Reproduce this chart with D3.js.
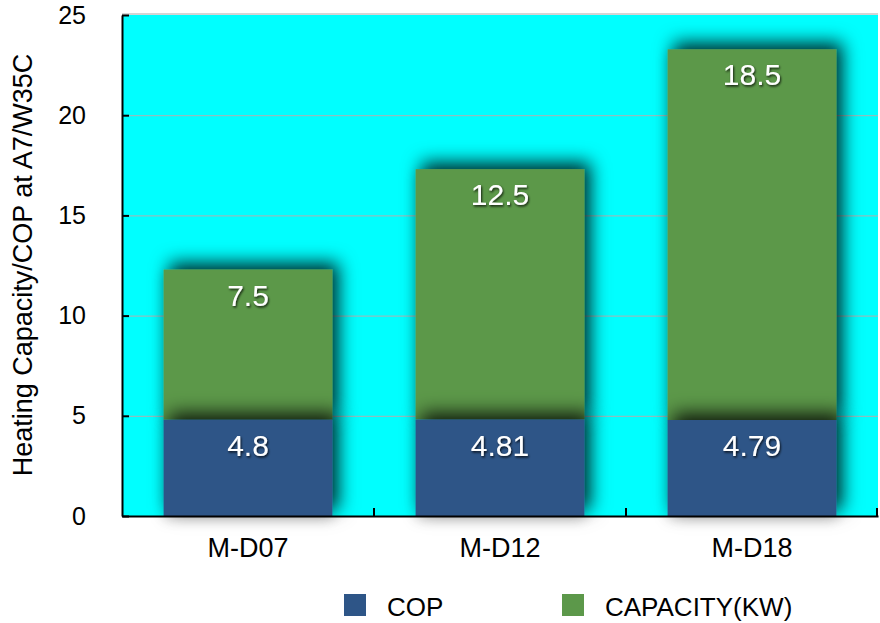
<!DOCTYPE html>
<html>
<head>
<meta charset="utf-8">
<script src="https://cdn.jsdelivr.net/npm/d3@7"></script>
<style>
  body { margin: 0; background: #fff; }
  text { font-family: "Liberation Sans", Arial, sans-serif; }
</style>
</head>
<body>
<div id="chart"></div>
<script>
// chart data
const models = ["M-D07", "M-D12", "M-D18"];
const cop = [4.8, 4.81, 4.79];
const capacity = [7.5, 12.5, 18.5];
const yTicks = [0, 5, 10, 15, 20, 25];
const seriesNames = ["COP", "CAPACITY(KW)"];
const colors = ["#2e5587", "#5c984a"];

const width = 880, height = 623;
const margin = {top: 15, right: 0, bottom: 107, left: 122};
const innerW = 756, innerH = height - margin.top - margin.bottom;

const svg = d3.select("#chart").append("svg")
  .attr("width", width).attr("height", height);

// drop shadow for the bars
const defs = svg.append("defs");
const f = defs.append("filter").attr("id", "shadow")
  .attr("x", "-50%").attr("y", "-50%").attr("width", "200%").attr("height", "200%");
f.append("feDropShadow").attr("dx", 0).attr("dy", 4).attr("stdDeviation", 7)
  .attr("flood-color", "#000").attr("flood-opacity", 0.15);
f.append("feDropShadow").attr("dx", 6).attr("dy", -7).attr("stdDeviation", 9)
  .attr("flood-color", "#000").attr("flood-opacity", 0.8);
const tf = defs.append("filter").attr("id", "tshadow")
  .attr("x", "-20%").attr("y", "-20%").attr("width", "140%").attr("height", "140%");
tf.append("feDropShadow").attr("dx", 1).attr("dy", 1.5).attr("stdDeviation", 1)
  .attr("flood-color", "#000").attr("flood-opacity", 0.8);

const g = svg.append("g").attr("transform", "translate(" + margin.left + "," + margin.top + ")");

const x = d3.scaleBand().domain(models).range([0, innerW]).paddingInner(0.33).paddingOuter(0.165);
const xb = d3.scaleBand().domain(models).range([0, innerW]);
const y = d3.scaleLinear().domain([0, 25]).range([innerH, 0]);

// plot background
g.append("rect").attr("width", innerW).attr("height", innerH).attr("fill", "#00ffff");
g.append("line").attr("x1", 0).attr("x2", innerW).attr("y1", -1).attr("y2", -1)
  .attr("stroke", "#d4d4d4").attr("stroke-width", 2);

// gridlines
g.selectAll(".grid").data(yTicks.filter(d => d > 0 && d < 25)).enter().append("line")
  .attr("x1", 0).attr("x2", innerW)
  .attr("y1", d => y(d) + 0.5).attr("y2", d => y(d) + 0.5)
  .attr("stroke", "#b0b0b0").attr("stroke-width", 1);

// stacked data
const rows = models.map((m, i) => ({model: m, COP: cop[i], "CAPACITY(KW)": capacity[i]}));
const stack = d3.stack().keys(seriesNames)(rows);

// capacity drawn first so the COP shadow falls on it
[1, 0].forEach(li => {
  g.append("g").attr("filter", "url(#shadow)")
    .selectAll("rect").data(stack[li]).enter().append("rect")
    .attr("x", d => x(d.data.model))
    .attr("width", x.bandwidth())
    .attr("y", d => y(d[1]))
    .attr("height", d => y(d[0]) - y(d[1]))
    .attr("fill", colors[li]);
});

// value labels
const labels = g.append("g").attr("filter", "url(#tshadow)");
stack.forEach((s, li) => {
  labels.selectAll(".l" + li).data(s).enter().append("text")
    .attr("x", d => x(d.data.model) + x.bandwidth() / 2)
    .attr("y", d => y(d[1]) + 36)
    .attr("text-anchor", "middle")
    .attr("fill", "#fff")
    .style("font-size", "30px")
    .text(d => d.data[s.key]);
});

// axes
const yAxis = g.append("g")
  .call(d3.axisLeft(y).tickValues(yTicks).tickSizeInner(-7).tickSizeOuter(0).tickPadding(36));
yAxis.select(".domain").attr("stroke", "#000").attr("stroke-width", 2);
yAxis.selectAll(".tick line").attr("stroke", "#000").attr("stroke-width", 2);
yAxis.selectAll(".tick text").style("font-size", "25px").attr("fill", "#000");

const xAxis = g.append("g").attr("transform", "translate(0," + innerH + ")")
  .call(d3.axisBottom(xb).tickSize(0).tickPadding(22));
xAxis.select(".domain").attr("stroke", "#000").attr("stroke-width", 2);
xAxis.selectAll(".tick text").style("font-size", "27px").attr("fill", "#000");
// category separators
xAxis.selectAll(".sep").data(models.slice(1).map(m => xb(m)).concat([innerW - 1])).enter().append("line")
  .attr("x1", d => d).attr("x2", d => d)
  .attr("y1", 1).attr("y2", -8).attr("stroke", "#000").attr("stroke-width", 2);

// y title
svg.append("text")
  .attr("transform", "translate(32," + 265 + ") rotate(-90)")
  .attr("text-anchor", "middle")
  .style("font-size", "27px")
  .text("Heating Capacity/COP at A7/W35C");

// legend
const legendX = [344, 562];
const leg = svg.append("g");
seriesNames.forEach((n, i) => {
  leg.append("rect").attr("x", legendX[i]).attr("y", 594).attr("width", 22).attr("height", 22)
    .attr("fill", colors[i]);
  leg.append("text").attr("x", legendX[i] + 43).attr("y", 616)
    .style("font-size", "26px").text(n);
});
</script>
</body>
</html>
